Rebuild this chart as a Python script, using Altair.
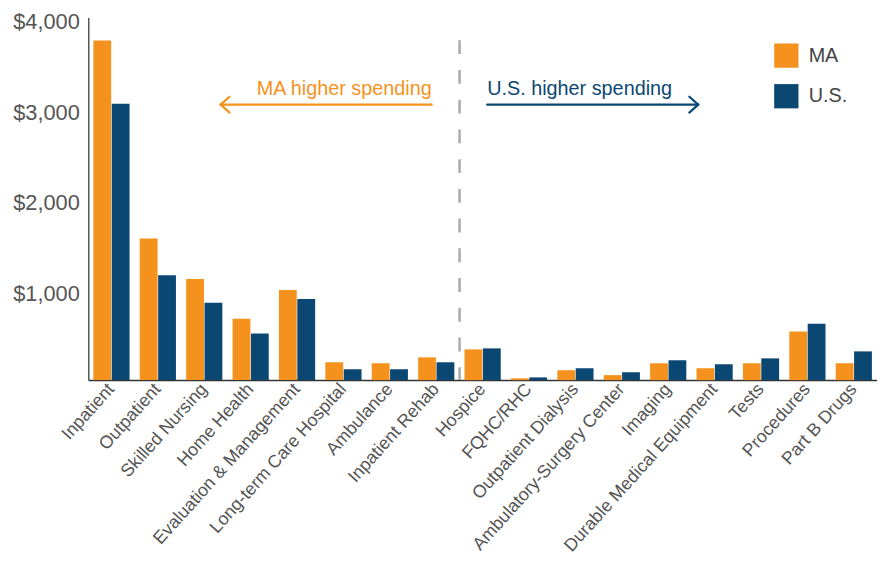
import altair as alt
import pandas as pd

categories = ["Inpatient", "Outpatient", "Skilled Nursing", "Home Health",
              "Evaluation & Management", "Long-term Care Hospital", "Ambulance",
              "Inpatient Rehab", "Hospice", "FQHC/RHC", "Outpatient Dialysis",
              "Ambulatory-Surgery Center", "Imaging", "Durable Medical Equipment",
              "Tests", "Procedures", "Part B Drugs"]
ma_values = [3745, 1563, 1115, 678, 995, 197, 186, 251, 339, 20, 109, 55, 186, 131, 186, 536, 186]
us_values = [3049, 1158, 852, 514, 896, 120, 120, 197, 350, 30, 131, 87, 219, 175, 240, 623, 317]
series = ["MA", "U.S."]
y_ticks = [1000, 2000, 3000, 4000]

ORANGE = "#F5921E"
BLUE = "#0B4773"
FONT = "Liberation Sans"

rows = []
for c, m, u in zip(categories, ma_values, us_values):
    rows.append({"Category": c, "Series": "MA", "Value": m})
    rows.append({"Category": c, "Series": "U.S.", "Value": u})
df = pd.DataFrame(rows)

W, H = 796, 366
step = W / len(categories)
xd = 8 * step  # divider between "MA higher" and "U.S. higher" groups

bars = alt.Chart(df).mark_bar().encode(
    x=alt.X("Category:N", sort=categories,
            scale=alt.Scale(paddingInner=0.22, paddingOuter=0.11),
            axis=alt.Axis(title=None, labelAngle=-48, labelAlign="right",
                          labelBaseline="middle", labelFontSize=18,
                          labelColor="#555", labelFont=FONT,
                          labelLimit=300, labelOverlap=False, labelPadding=6,
                          ticks=False, domainColor="#333", domainWidth=1.5)),
    xOffset=alt.XOffset("Series:N", sort=series, scale=alt.Scale(paddingInner=0.03)),
    y=alt.Y("Value:Q", scale=alt.Scale(domain=[0, 4000], nice=False),
            axis=alt.Axis(title=None, values=y_ticks, grid=False, ticks=False,
                          labelExpr="'$' + format(datum.value, ',')",
                          labelFontSize=22, labelColor="#555", labelFont=FONT,
                          labelPadding=9, labelOffset=4,
                          domainColor="#555", domainWidth=1.5)),
    color=alt.Color("Series:N", sort=series,
                    scale=alt.Scale(domain=series, range=[ORANGE, BLUE]),
                    legend=alt.Legend(title=None, orient="none", legendX=692, legendY=26,
                                      symbolType="square", symbolSize=600,
                                      symbolStrokeWidth=0, labelFontSize=20,
                                      labelColor="#444", labelFont=FONT,
                                      rowPadding=16, labelOffset=10, padding=0)),
)

one = pd.DataFrame({"k": [0]})

divider = alt.Chart(one).mark_rule(color="#AAAAAA", strokeWidth=2.5,
                                   strokeDash=[14, 16], xOffset=-5).encode(
    x=alt.XDatum("Hospice", type="nominal", bandPosition=0),
    y=alt.value(23), y2=alt.value(H))

ma_text = alt.Chart(one).mark_text(text="MA higher spending", align="right",
                                   baseline="middle", fontSize=20, font=FONT,
                                   color=ORANGE).encode(
    x=alt.value(xd - 28), y=alt.value(72))
us_text = alt.Chart(one).mark_text(text="U.S. higher spending", align="left",
                                   baseline="middle", fontSize=20, font=FONT,
                                   color=BLUE).encode(
    x=alt.value(xd + 28), y=alt.value(72))

def seg(x1, y1, x2, y2, color):
    return alt.Chart(one).mark_rule(color=color, strokeWidth=2.2, strokeCap="round").encode(
        x=alt.value(x1), y=alt.value(y1), x2=alt.value(x2), y2=alt.value(y2))

ay = 88
arrows = [
    seg(xd - 241, ay, xd - 28, ay, ORANGE),
    seg(xd - 241, ay, xd - 232, ay - 8, ORANGE),
    seg(xd - 241, ay, xd - 232, ay + 8, ORANGE),
    seg(xd + 28, ay, xd + 241, ay, BLUE),
    seg(xd + 241, ay, xd + 232, ay - 8, BLUE),
    seg(xd + 241, ay, xd + 232, ay + 8, BLUE),
]

chart = alt.layer(bars, divider, ma_text, us_text, *arrows).properties(
    width=W, height=H,
    autosize=alt.AutoSizeParams(type="none"),
    padding={"left": 81, "top": 7, "right": 0, "bottom": 180},
).configure_view(stroke=None)

chart.save("out.html", embed_options={"renderer": "svg", "actions": False})
